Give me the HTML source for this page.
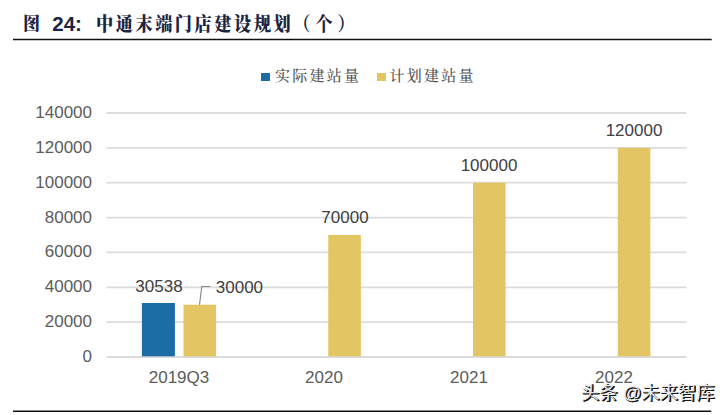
<!DOCTYPE html>
<html><head><meta charset="utf-8">
<style>
html,body{margin:0;padding:0;background:#fff;}
body{width:728px;height:415px;position:relative;overflow:hidden;}
.a{position:absolute;}
.title{top:9px;font-family:"Liberation Serif","Noto Serif CJK SC",serif;font-weight:bold;font-size:18.5px;color:#1b2440;white-space:nowrap;line-height:30px;}
.title.num{font-family:"Liberation Sans","Noto Sans CJK SC",sans-serif;font-size:20px;}
.leg{font-family:"Noto Serif CJK SC",serif;font-size:15px;letter-spacing:2.25px;font-weight:500;color:#555;white-space:nowrap;line-height:20px;}
.sq{width:9px;height:8px;}
.yl{font-family:"Liberation Sans",sans-serif;font-size:17px;color:#5c5c5c;right:636px;line-height:20px;text-align:right;}
.blue{background:#1c6ca6;}
.yel{background:#e3c563;}
.dl{font-family:"Liberation Sans",sans-serif;font-size:17px;color:#404040;line-height:20px;text-align:center;width:80px;}
.xl{font-family:"Liberation Sans",sans-serif;font-size:17px;color:#5c5c5c;line-height:20px;text-align:center;width:100px;}
.wm{font-family:"Liberation Sans","Noto Sans CJK SC",sans-serif;font-size:18px;letter-spacing:0.3px;color:#e6e6e6;white-space:nowrap;line-height:24px;text-shadow:1.4px 1.4px 0 #151515,0.8px 1.4px 0 #151515,1.4px 0.8px 0 #151515;}
</style></head>
<body>
<div class="a title" style="left:23px;top:9px;font-weight:900;transform:scaleX(0.92);transform-origin:0 0">图</div><div class="a title num" style="left:52.3px;top:8.6px;font-size:20.5px">24:</div><div class="a title" style="left:96px;top:10.2px;letter-spacing:2.9px;font-weight:900;font-size:19.5px;transform:scaleX(0.88);transform-origin:0 0">中通末端门店建设规划<span style="font-weight:700">（<span style="margin-left:2.6px">个</span><span style="margin-left:3.1px">）</span></span></div>

<div class="a sq blue" style="left:261px;top:73px"></div>
<div class="a leg" style="left:275px;top:65.3px">实际建站量</div>
<div class="a sq yel" style="left:377px;top:73px"></div>
<div class="a leg" style="left:389.5px;top:65.3px">计划建站量</div>
<svg class="a" style="left:0;top:0" width="728" height="415">
<line x1="106.5" y1="357.00" x2="686.5" y2="357.00" stroke="#dcdcdc" stroke-width="1.8"/>
<line x1="106.5" y1="322.14" x2="686.5" y2="322.14" stroke="#dcdcdc" stroke-width="1.8"/>
<line x1="106.5" y1="287.29" x2="686.5" y2="287.29" stroke="#dcdcdc" stroke-width="1.8"/>
<line x1="106.5" y1="252.43" x2="686.5" y2="252.43" stroke="#dcdcdc" stroke-width="1.8"/>
<line x1="106.5" y1="217.57" x2="686.5" y2="217.57" stroke="#dcdcdc" stroke-width="1.8"/>
<line x1="106.5" y1="182.71" x2="686.5" y2="182.71" stroke="#dcdcdc" stroke-width="1.8"/>
<line x1="106.5" y1="147.86" x2="686.5" y2="147.86" stroke="#dcdcdc" stroke-width="1.8"/>
<line x1="106.5" y1="113.00" x2="686.5" y2="113.00" stroke="#dcdcdc" stroke-width="1.8"/>
<rect x="141.9" y="303.0" width="33.0" height="53.3" fill="#1c6ca6"/>
<rect x="183.50" y="304.71" width="32.6" height="51.59" fill="#e3c563"/>
<rect x="328.25" y="235.00" width="32.6" height="121.30" fill="#e3c563"/>
<rect x="473.00" y="182.71" width="32.6" height="173.59" fill="#e3c563"/>
<rect x="617.75" y="147.86" width="32.6" height="208.44" fill="#e3c563"/>
<polyline points="199.5,304.8 201.8,286.5 210.6,286.5" fill="none" stroke="#8a8a8a" stroke-width="1.2"/>
<line x1="13" y1="39.45" x2="711.7" y2="39.45" stroke="#111" stroke-width="1.6"/>
<line x1="13" y1="411.3" x2="711.3" y2="411.3" stroke="#111" stroke-width="1.6"/>
</svg>
<div class="a yl" style="top:102.5px">140000</div>
<div class="a yl" style="top:137.5px">120000</div>
<div class="a yl" style="top:172.5px">100000</div>
<div class="a yl" style="top:207.5px">80000</div>
<div class="a yl" style="top:242px">60000</div>
<div class="a yl" style="top:277px">40000</div>
<div class="a yl" style="top:311.5px">20000</div>
<div class="a yl" style="top:346.5px">0</div>

<div class="a dl" style="left:119px;top:277px">30538</div>
<div class="a dl" style="left:215.8px;top:277.5px;text-align:left">30000</div>
<div class="a dl" style="left:305px;top:208px">70000</div>
<div class="a dl" style="left:449px;top:156px">100000</div>
<div class="a dl" style="left:594px;top:121px">120000</div>

<div class="a xl" style="left:129px;top:368px">2019Q3</div>
<div class="a xl" style="left:274px;top:368px">2020</div>
<div class="a xl" style="left:419px;top:368px">2021</div>
<div class="a xl" style="left:564px;top:368px">2022</div>

<div class="a wm" style="left:581px;top:380.5px">头条 @未来智库</div>
</body></html>
